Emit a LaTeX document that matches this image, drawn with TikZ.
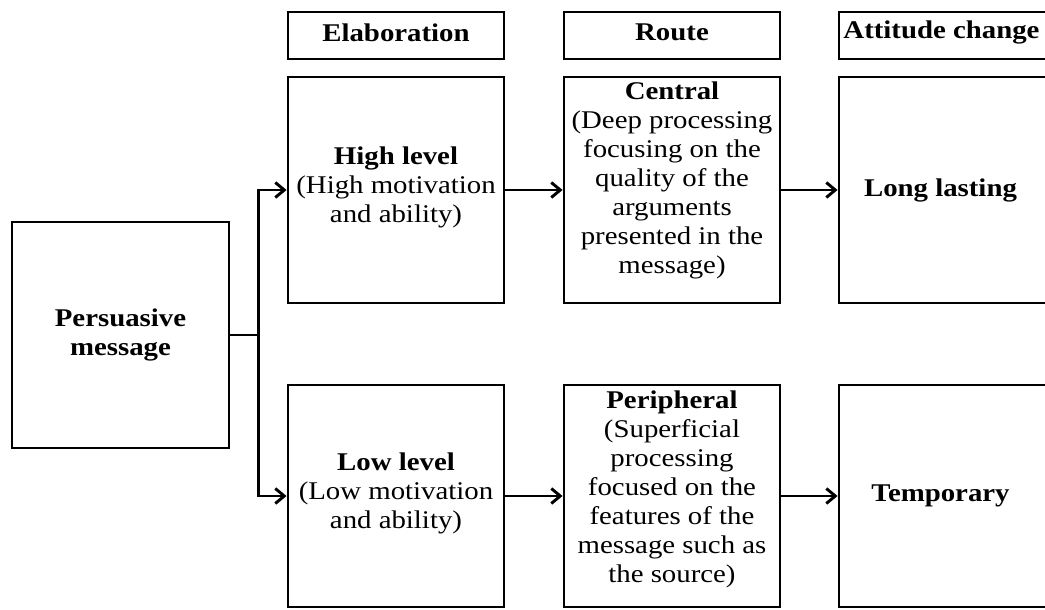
\documentclass[tikz,border=0pt]{standalone}
\usepackage{fontspec}
\setmainfont{Liberation Serif}[FakeStretch=1.13]
\usetikzlibrary{arrows.meta}
\begin{document}
\begin{tikzpicture}[x=1pt,y=-1pt,
  box/.style={draw, line width=2.9pt, inner sep=0pt, minimum width=216pt},
  txt/.style={inner sep=0pt, align=center, font=\fontsize{25.5}{29}\selectfont},
  headbox/.style={box, minimum height=47pt},
  headtxt/.style={txt, font=\fontsize{25.5}{29}\selectfont\bfseries},
  upperbox/.style={box, minimum height=226pt},
  lowerbox/.style={box, minimum height=222pt},
  edgebox/.style={minimum width=209pt},
  link/.style={line width=2.9pt},
  arr/.style={link, -{Straight Barb[length=9pt,width=15pt,line width=2.9pt]}}]
\useasboundingbox (0,0) rectangle (1045,610);

% column headings
\node[headbox] (hElab) at (396,35.5) {};
\node[headbox] (hRoute) at (672,35.5) {};
\node[headbox, edgebox] (hAtt) at (943.5,35.5) {};
\node[headtxt] (hElabText) at ([yshift=3pt]hElab.center) {Elaboration};
\node[headtxt] (hRouteText) at ([yshift=3pt]hRoute.center) {Route};
\node[headtxt] (hAttText) at ([yshift=3pt,xshift=-2pt]hAtt.center) {Attitude change};

% source
\node[box, minimum width=217pt, minimum height=226pt] (pm) at (120.5,335) {};
\node[txt] (pmText) at (pm.center) {\textbf{Persuasive}\\\textbf{message}};

% high elaboration row
\node[upperbox] (high) at (396,190) {};
\node[upperbox] (central) at (672,190) {};
\node[upperbox, edgebox] (long) at (943.5,190) {};
\node[txt] (highText) at ([yshift=3pt]high.center)
  {\textbf{High level}\\(High motivation\\and ability)};
\node[txt] (centralText) at ([yshift=10pt]central.center)
  {\textbf{Central}\\(Deep processing\\focusing on the\\quality of the\\arguments\\presented in the\\message)};
\node[txt] (longText) at ([xshift=-3pt]long.center) {\textbf{Long lasting}};

% low elaboration row
\node[lowerbox] (low) at (396,496) {};
\node[lowerbox] (periph) at (672,496) {};
\node[lowerbox, edgebox] (temp) at (943.5,496) {};
\node[txt] (lowText) at ([yshift=3pt]low.center)
  {\textbf{Low level}\\(Low motivation\\and ability)};
\node[txt] (periphText) at ([yshift=7pt]periph.center)
  {\textbf{Peripheral}\\(Superficial\\processing\\focused on the\\features of the\\message such as\\the source)};
\node[txt] (tempText) at ([xshift=-3pt]temp.center) {\textbf{Temporary}};

% connectors
\draw[link] (pm.east) -- ++(28,0) coordinate (split);
\draw[arr] (split) |- (high.west);
\draw[arr] (split) |- (low.west);
\draw[arr] (high.east) -- (central.west);
\draw[arr] (central.east) -- (long.west);
\draw[arr] (low.east) -- (periph.west);
\draw[arr] (periph.east) -- (temp.west);
\end{tikzpicture}
\end{document}
